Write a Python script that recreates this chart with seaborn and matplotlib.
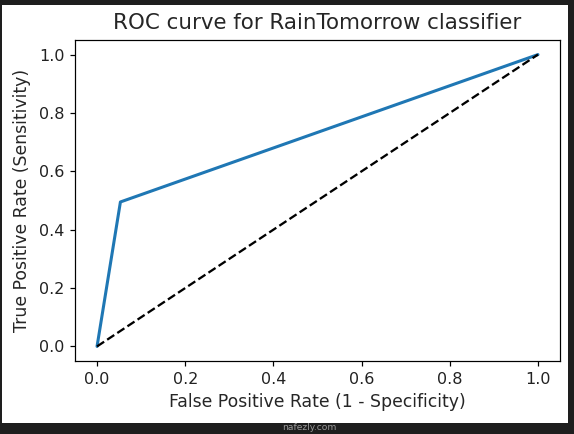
"""ROC curve for the RainTomorrow classifier, as shown in a notebook screenshot."""

import matplotlib

matplotlib.use("Agg")
import matplotlib.pyplot as plt
import pandas as pd
import seaborn as sns
from matplotlib.patches import Rectangle

# ROC points
fpr = [0.0, 0.053, 1.0]
tpr = [0.0, 0.495, 1.0]
chance = [0.0, 1.0]

title = "ROC curve for RainTomorrow classifier"
xlabel = "False Positive Rate (1 - Specificity)"
ylabel = "True Positive Rate (Sensitivity)"
watermark = "nafezly.com"

W, H, DPI = 574, 434, 110

sns.set_style("ticks")
plt.rcParams["font.family"] = ["DejaVu Sans"]

fig = plt.figure(figsize=(W / DPI, H / DPI), dpi=DPI, facecolor="#1e1e1e")

# white notebook output cell inside the dark frame
fig.patches.append(
    Rectangle(
        (2 / W, 1 - 423 / H),
        566 / W,
        418 / H,
        transform=fig.transFigure,
        facecolor="white",
        edgecolor="none",
        zorder=-10,
    )
)

ax = fig.add_axes([75 / W, 1 - 361 / H, 485 / W, 321 / H])

roc = pd.DataFrame({"fpr": fpr, "tpr": tpr})
sns.lineplot(data=roc, x="fpr", y="tpr", ax=ax, linewidth=2, color="#1f77b4",
             sort=False, estimator=None)
ax.plot(chance, chance, "k--", linewidth=1.5)

ax.set_xlim(-0.05, 1.05)
ax.set_ylim(-0.05, 1.05)
ax.set_xticks([0.0, 0.2, 0.4, 0.6, 0.8, 1.0])
ax.set_yticks([0.0, 0.2, 0.4, 0.6, 0.8, 1.0])
ax.set_title(title, fontsize=14, pad=7)
ax.set_xlabel(xlabel, fontsize=11.3, labelpad=4)
ax.set_ylabel(ylabel, fontsize=11.3, labelpad=5)
for side in ax.spines.values():
    side.set_visible(True)
    side.set_color("black")
    side.set_linewidth(0.8)
ax.tick_params(colors="black", labelcolor="#222222", labelsize=10.5,
               length=3.5, width=0.8)

fig.text(309 / W, 1 - 428 / H, watermark, ha="center", va="center",
         fontsize=6, color="#9a9a9a")

fig.savefig("out.png", dpi=DPI, facecolor=fig.get_facecolor())
